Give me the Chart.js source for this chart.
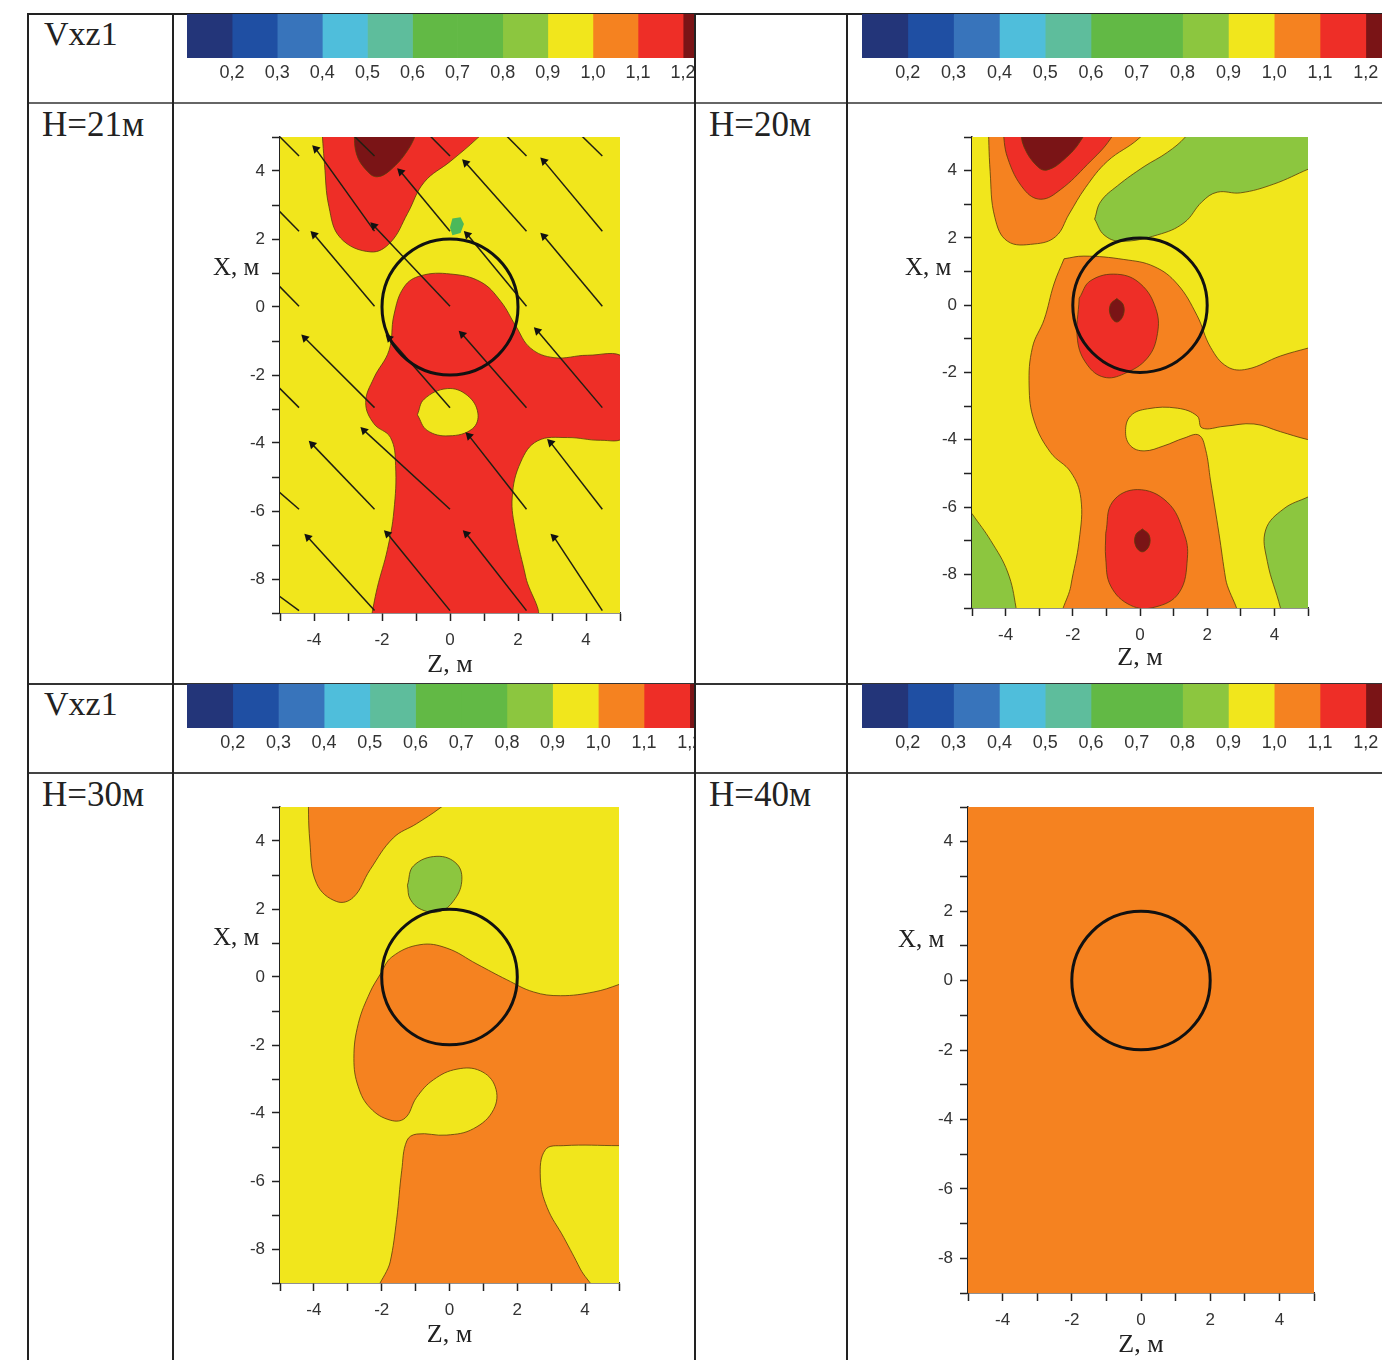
<!DOCTYPE html>
<html>
<head>
<meta charset="utf-8">
<title>Vxz1</title>
<script src="https://cdn.jsdelivr.net/npm/chart.js@4"></script>
<style>
    html, body { margin: 0; padding: 0; background: #fff; }
    #page { position: relative; width: 1382px; height: 1360px; overflow: hidden; }
    .rule { position: absolute; background: #222; }
    .label { position: absolute; font-family: "Liberation Serif", serif; color: #222; white-space: nowrap; }
    .box { position: absolute; overflow: hidden; }
    canvas { display: block; }
</style>
</head>
<body>
<div id="page"></div>
<script>
// Colour scale
const bandEdges = [0.1, 0.2, 0.3, 0.4, 0.5, 0.6, 0.7, 0.8, 0.9, 1.0, 1.1, 1.2, 1.3];
const bandColors = ['#233579', '#1f4fa3', '#3874bb', '#4fbedb', '#5ebd9c', '#62b945', '#62b945', '#8cc63f', '#f1e61c', '#f58220', '#ee2e27', '#7a1416'];

const zTicks = [-4, -2, 0, 2, 4];
const xTicks = [-8, -6, -4, -2, 0, 2, 4];

// Contours as [Z, X] pairs. Points past the frame get clipped.
const frame = [[-5, 5], [5, 5], [5, -9], [-5, -9], [-5, 5]];

// H=21
const h21Red = [[-3.78, 5.42], [-3.69, 4.19], [-3.56, 2.95], [-3.22, 2.03], [-2.33, 1.62], [-1.75, 1.9], [-1.25, 2.75], [-0.76, 3.67], [0.02, 4.29], [0.8, 4.96], [1.2, 5.4]];
const h21Dark = [[-2.82, 5.3], [-2.75, 4.5], [-2.43, 3.99], [-2.14, 3.83], [-1.75, 4.03], [-1.25, 4.6], [-0.96, 5.2], [-0.9, 5.5]];
const h21Green = [[0, 2.34], [0.07, 2.6], [0.31, 2.64], [0.41, 2.44], [0.31, 2.18], [0.07, 2.11]];
const h21Main = [[-2.33, -9.2], [-2.14, -8.26], [-1.84, -7.13], [-1.65, -6], [-1.6, -4.66], [-1.75, -3.84], [-2.24, -3.43], [-2.48, -2.81], [-2.24, -2.09], [-1.79, -1.27], [-1.65, -0.24], [-1.35, 0.59], [-0.86, 0.92], [0.02, 0.97], [0.9, 0.74], [1.49, 0.17], [1.93, -0.55], [2.37, -1.21], [3.06, -1.49], [4.04, -1.42], [5.12, -1.49], [5.4, -2.6], [5.12, -3.82], [4.43, -3.92], [3.45, -3.84], [2.57, -3.94], [2.08, -4.56], [1.83, -5.59], [1.93, -6.61], [2.23, -7.95], [2.47, -9.19]];
const h21Hole = [[-0.96, -3.17], [-0.76, -2.71], [-0.08, -2.4], [0.51, -2.6], [0.82, -3.12], [0.66, -3.58], [-0.03, -3.79], [-0.67, -3.63]];
// tail Z, tail X, head Z, head X
const h21Arrows = [
    [-4.44, 4.44, -5.3, 5.3], [-2.22, 4.44, -3.1, 5.3], [0, 4.44, -0.85, 5.3], [2.25, 4.44, 1.4, 5.3], [4.48, 4.44, 3.6, 5.3],
    [-4.44, 2.23, -5.3, 3.1], [-2.22, 2.23, -3.95, 4.65], [0, 2.23, -1.45, 3.98], [2.25, 2.23, 0.46, 4.24], [4.48, 2.23, 2.76, 4.29],
    [-4.44, 0.02, -5.3, 0.9], [-2.22, 0.02, -4, 2.13], [0, 0.02, -2.24, 2.39], [2.25, 0.02, 0.51, 2.13], [4.48, 0.02, 2.76, 2.08],
    [-4.44, -2.96, -5.3, -2.1], [-2.22, -2.96, -4.27, -0.91], [0, -2.96, -1.79, -0.91], [2.25, -2.96, 0.36, -0.8], [4.48, -2.96, 2.57, -0.7],
    [-4.44, -5.95, -5.3, -5.2], [-2.22, -5.95, -4.05, -4.04], [0, -5.95, -2.53, -3.63], [2.25, -5.95, 0.56, -3.79], [4.48, -5.95, 2.96, -3.99],
    [-4.44, -8.93, -5.3, -8.3], [-2.22, -8.93, -4.18, -6.77], [0, -8.93, -1.84, -6.67], [2.25, -8.93, 0.48, -6.67], [4.48, -8.93, 3.06, -6.77]
];

// H=20
const h20OrangeTop = [[-4.52, 5.53], [-4.46, 3.97], [-4.32, 2.61], [-3.94, 1.9], [-3.15, 1.82], [-2.51, 2.04], [-2.11, 2.71], [-1.62, 3.5], [-0.97, 4.28], [-0.03, 4.96], [0.42, 5.53]];
const h20RedTop = [[-4.09, 5.3], [-3.94, 4.38], [-3.45, 3.44], [-2.95, 3.15], [-2.36, 3.44], [-1.57, 4.18], [-0.87, 4.96], [-0.67, 5.53]];
const h20DarkTop = [[-3.57, 5.3], [-3.45, 4.7], [-3.05, 4.12], [-2.76, 4.02], [-2.26, 4.33], [-1.76, 4.9], [-1.57, 5.43]];
const h20GreenTop = [[-1.35, 2.56], [-1.17, 3.08], [-0.67, 3.55], [0.12, 4.12], [0.81, 4.54], [1.36, 5.01], [1.7, 5.53], [5.47, 5.53], [5.47, 4.23], [5.02, 4.05], [3.98, 3.6], [2.99, 3.34], [2.3, 3.36], [1.85, 3.08], [1.31, 2.45], [0.52, 2.09], [-0.57, 1.9], [-1.07, 2.09]];
const h20Main = [[-2.26, 1.38], [-1.67, 1.46], [-0.48, 1.36], [0.42, 1.15], [1.11, 0.63], [1.7, -0.31], [2.1, -1.25], [2.6, -1.83], [3.19, -1.9], [4.18, -1.51], [5.02, -1.27], [5.47, -1.15], [5.47, -4.07], [4.98, -3.99], [4.18, -3.76], [3.39, -3.53], [2.5, -3.6], [1.85, -3.65], [1.7, -3.29], [1.11, -3.06], [0.22, -3.08], [-0.28, -3.29], [-0.43, -3.76], [-0.28, -4.18], [0.12, -4.33], [0.71, -4.18], [1.31, -3.95], [1.75, -3.86], [1.95, -4.28], [2.1, -5.22], [2.35, -6.78], [2.55, -8.14], [2.78, -9.39], [-2.21, -9.39], [-2.06, -8.35], [-1.81, -6.99], [-1.76, -5.74], [-2.06, -4.96], [-2.66, -4.38], [-3.15, -3.44], [-3.3, -2.4], [-3.2, -1.25], [-2.85, -0.42], [-2.56, 0.63]];
const h20RedMid = [[-1.81, 0.21], [-1.47, 0.73], [-0.67, 0.92], [0.02, 0.63], [0.47, -0.1], [0.52, -0.84], [0.22, -1.57], [-0.48, -2.04], [-1.07, -2.14], [-1.57, -1.77], [-1.86, -1.04]];
const h20DarkMid = [[-0.69, 0.2], [-0.5, 0.02], [-0.5, -0.3], [-0.69, -0.5], [-0.88, -0.3], [-0.88, 0.02]];
const h20RedLow = [[-1.02, -6.78], [-0.82, -5.85], [-0.08, -5.48], [0.81, -5.85], [1.31, -6.78], [1.41, -7.52], [1.16, -8.55], [0.42, -8.98], [-0.28, -8.92], [-0.87, -8.35], [-1.02, -7.52]];
const h20DarkLow = [[0.07, -6.65], [0.27, -6.83], [0.27, -7.15], [0.07, -7.33], [-0.13, -7.15], [-0.13, -6.83]];
const h20GreenLeft = [[-4.99, -6.21], [-4.44, -7], [-3.94, -7.93], [-3.69, -8.99], [-3.65, -9.6], [-5.5, -9.6], [-5.5, -5.7]];
const h20GreenRight = [[5.02, -5.69], [4.28, -6.05], [3.74, -6.68], [3.79, -7.62], [4.18, -9], [4.28, -9.6], [5.47, -9.6], [5.47, -5.53]];

// H=30
const h30OrangeTop = [[-4.17, 5.54], [-4.12, 4], [-3.92, 2.75], [-3.33, 2.22], [-2.84, 2.34], [-2.34, 3.16], [-1.66, 4.09], [-0.97, 4.51], [-0.28, 4.97], [0.41, 5.54]];
const h30Green = [[-1.24, 2.7], [-1.06, 3.27], [-0.37, 3.55], [0.22, 3.32], [0.36, 2.8], [0.12, 2.24], [-0.28, 1.93], [-0.82, 1.98], [-1.16, 2.29]];
const h30Main = [[-2.05, 0.07], [-1.7, 0.59], [-0.87, 0.95], [-0.08, 0.85], [0.81, 0.38], [1.69, -0.08], [2.48, -0.44], [3.27, -0.55], [4.26, -0.44], [5, -0.22], [5.44, -0.03], [5.44, -4.96], [5, -4.96], [3.37, -4.96], [2.83, -5.08], [2.68, -5.91], [2.88, -6.78], [3.37, -7.66], [3.86, -8.59], [4.26, -9.41], [-2.05, -9.41], [-1.75, -8.38], [-1.56, -7.14], [-1.41, -5.7], [-1.26, -4.82], [-0.97, -4.62], [-0.08, -4.65], [0.71, -4.46], [1.3, -3.9], [1.35, -3.23], [0.91, -2.76], [0.22, -2.71], [-0.47, -3.02], [-0.97, -3.54], [-1.31, -4.15], [-1.75, -4.21], [-2.34, -3.85], [-2.69, -3.23], [-2.82, -2.4], [-2.69, -1.37], [-2.34, -0.44]];

const YELLOW = '#f1e61c';
const ORANGE = '#f58220';
const RED = '#ee2e27';
const DARK = '#7a1416';
const GREEN = '#8cc63f';
const CONTOUR = 'rgba(90,60,10,0.8)';
const INK = '#333';

const page = document.getElementById('page');

function addRule(x, y, w, h, color) {
    const d = document.createElement('div');
    d.className = 'rule';
    d.style.cssText = `left:${x}px;top:${y}px;width:${w}px;height:${h}px;` + (color ? `background:${color};` : '');
    page.appendChild(d);
}

function addLabel(text, x, y, size) {
    const d = document.createElement('div');
    d.className = 'label';
    d.textContent = text;
    d.style.cssText = `left:${x}px;top:${y}px;font-size:${size}px;`;
    page.appendChild(d);
}

function addCanvas(left, top, width, height, boxWidth) {
    const box = document.createElement('div');
    box.className = 'box';
    box.style.cssText = `left:${left}px;top:${top}px;width:${boxWidth || width}px;height:${height}px;`;
    const wrap = document.createElement('div');
    wrap.style.cssText = `position:relative;width:${width}px;height:${height}px;`;
    const c = document.createElement('canvas');
    wrap.appendChild(c);
    box.appendChild(wrap);
    page.appendChild(box);
    return c;
}

function contour(points, color, line) {
    return {
        data: points.concat([points[0]]).map(p => ({ x: p[0], y: p[1] })),
        showLine: true,
        fill: 'shape',
        backgroundColor: color,
        borderColor: line === false ? 'transparent' : CONTOUR,
        borderWidth: line === false ? 0 : 1,
        pointRadius: 0,
        tension: line === false ? 0 : 0.4
    };
}

function arrow(a) {
    return {
        data: [{ x: a[0], y: a[1] }, { x: a[2], y: a[3] }],
        showLine: true,
        borderColor: '#1f1f12',
        borderWidth: 1.5,
        backgroundColor: '#111',
        pointStyle: 'triangle',
        pointBorderWidth: 0,
        pointRotation: -45,
        pointRadius: ctx => ctx.dataIndex === 1 ? 5 : 0
    };
}

function ring() {
    return {
        data: [{ x: 0, y: 0 }],
        showLine: false,
        backgroundColor: 'transparent',
        borderColor: '#111',
        pointBorderWidth: 3,
        // radius 2 m on the Z axis
        pointRadius: ctx => {
            const sx = ctx.chart.scales.x;
            return sx.getPixelForValue(2) - sx.getPixelForValue(0);
        }
    };
}

function drawPanel(p, layers) {
    const marginL = 50, marginT = 10, marginR = 12, marginB = p.bottom;
    const canvas = addCanvas(p.left - marginL, p.top - marginT, p.width + marginL + marginR, p.height + marginT + marginB);
    // Chart.js paints the first dataset last, so the stack is listed top down
    const datasets = layers.concat([ring()]).reverse();
    new Chart(canvas, {
        type: 'scatter',
        data: { datasets: datasets },
        options: {
            responsive: true,
            maintainAspectRatio: false,
            animation: false,
            layout: { padding: { top: marginT, right: marginR, left: 0, bottom: 0 } },
            plugins: { legend: { display: false }, tooltip: { enabled: false } },
            elements: { line: { capBezierPoints: false } },
            scales: {
                x: {
                    type: 'linear', min: -5, max: 5,
                    afterFit: s => { s.height = marginB; s.paddingLeft = 0; s.paddingRight = 0; },
                    border: { color: '#222', width: 1.5 },
                    grid: { drawOnChartArea: false, tickLength: 8, tickColor: '#222', tickWidth: 1.5 },
                    ticks: {
                        stepSize: 1, maxRotation: 0, autoSkip: false, color: INK, padding: 9,
                        font: { family: 'Liberation Sans', size: 17 },
                        callback: v => zTicks.includes(v) ? String(v) : ''
                    },
                    title: {
                        display: true, text: 'Z, м', color: '#222', padding: { top: 2, bottom: 0 },
                        font: { family: 'Liberation Serif', size: 26 }
                    }
                },
                y: {
                    type: 'linear', min: -9, max: 5,
                    afterFit: s => { s.width = marginL; s.paddingTop = 0; s.paddingBottom = 0; },
                    border: { color: '#222', width: 1.5 },
                    grid: { drawOnChartArea: false, tickLength: 8, tickColor: '#222', tickWidth: 1.5 },
                    ticks: {
                        stepSize: 1, autoSkip: false, color: INK, padding: 7,
                        font: { family: 'Liberation Sans', size: 17 },
                        callback: v => xTicks.includes(v) ? String(v) : ''
                    }
                }
            }
        }
    });
    addLabel('X, м', p.left + p.titleX, p.top + p.titleY, 25);
}

function drawColorBar(left, top, unit, boxWidth) {
    const width = unit * (bandEdges.length - 1);
    const canvas = addCanvas(left, top, width, 76, boxWidth);
    new Chart(canvas, {
        type: 'bar',
        data: {
            labels: ['Vxz1'],
            datasets: bandColors.map((color, i) => ({
                data: [[bandEdges[i], bandEdges[i + 1]]],
                backgroundColor: color,
                barPercentage: 1,
                categoryPercentage: 1,
                grouped: false
            }))
        },
        options: {
            indexAxis: 'y',
            responsive: true,
            maintainAspectRatio: false,
            animation: false,
            layout: { padding: 0 },
            plugins: { legend: { display: false }, tooltip: { enabled: false } },
            scales: {
                x: {
                    type: 'linear', min: bandEdges[0], max: bandEdges[bandEdges.length - 1],
                    afterFit: s => { s.height = 32; s.paddingLeft = 0; s.paddingRight = 0; },
                    border: { display: false },
                    grid: { display: false, drawTicks: false },
                    ticks: {
                        stepSize: 0.1, includeBounds: false, maxRotation: 0, autoSkip: false, color: INK, padding: 4,
                        font: { family: 'Liberation Sans', size: 18 },
                        // the scale has no label for its lowest edge
                        callback: v => v < bandEdges[1] - 0.01 ? '' : v.toFixed(1).replace('.', ',')
                    }
                },
                y: { display: false }
            }
        }
    });
}

// Table rules
addRule(27, 13, 1355, 2);
addRule(27, 102, 1355, 2, '#666');
addRule(27, 683, 1355, 2, '#333');
addRule(27, 772, 1355, 2, '#444');
addRule(27, 13, 2, 1347);
addRule(172, 13, 2, 1347);
addRule(694, 13, 2, 1347);
addRule(846, 13, 2, 1347);

addLabel('Vxz1', 44, 15, 34);
addLabel('H=21м', 42, 105, 35);
addLabel('H=20м', 709, 105, 35);
addLabel('Vxz1', 44, 685, 34);
addLabel('H=30м', 42, 775, 35);
addLabel('H=40м', 709, 775, 35);

drawColorBar(187, 14, 45.1, 507);
drawColorBar(861.5, 14, 45.8, 521);
drawColorBar(187, 684, 45.7, 507);
drawColorBar(861.5, 684, 45.8, 521);

drawPanel({ left: 280, top: 137, width: 340, height: 476, bottom: 68, titleX: -67, titleY: 116 }, [
    contour(frame, YELLOW, false),
    contour(h21Red, RED),
    contour(h21Dark, DARK),
    contour(h21Main, RED),
    contour(h21Hole, YELLOW),
    contour(h21Green, '#4cb95a', false)
].concat(h21Arrows.map(arrow)));

drawPanel({ left: 972, top: 137, width: 336, height: 471, bottom: 66, titleX: -67, titleY: 116 }, [
    contour(frame, YELLOW, false),
    contour(h20OrangeTop, ORANGE),
    contour(h20RedTop, RED),
    contour(h20DarkTop, DARK),
    contour(h20GreenTop, GREEN),
    contour(h20Main, ORANGE),
    contour(h20RedMid, RED),
    contour(h20DarkMid, DARK),
    contour(h20RedLow, RED),
    contour(h20DarkLow, DARK),
    contour(h20GreenLeft, GREEN),
    contour(h20GreenRight, GREEN)
]);

drawPanel({ left: 280, top: 807, width: 339, height: 476, bottom: 68, titleX: -67, titleY: 116 }, [
    contour(frame, YELLOW, false),
    contour(h30OrangeTop, ORANGE),
    contour(h30Green, GREEN),
    contour(h30Main, ORANGE)
]);

drawPanel({ left: 968, top: 807, width: 346, height: 486, bottom: 68, titleX: -70, titleY: 118 }, [
    contour(frame, ORANGE, false)
]);
</script>
</body>
</html>
